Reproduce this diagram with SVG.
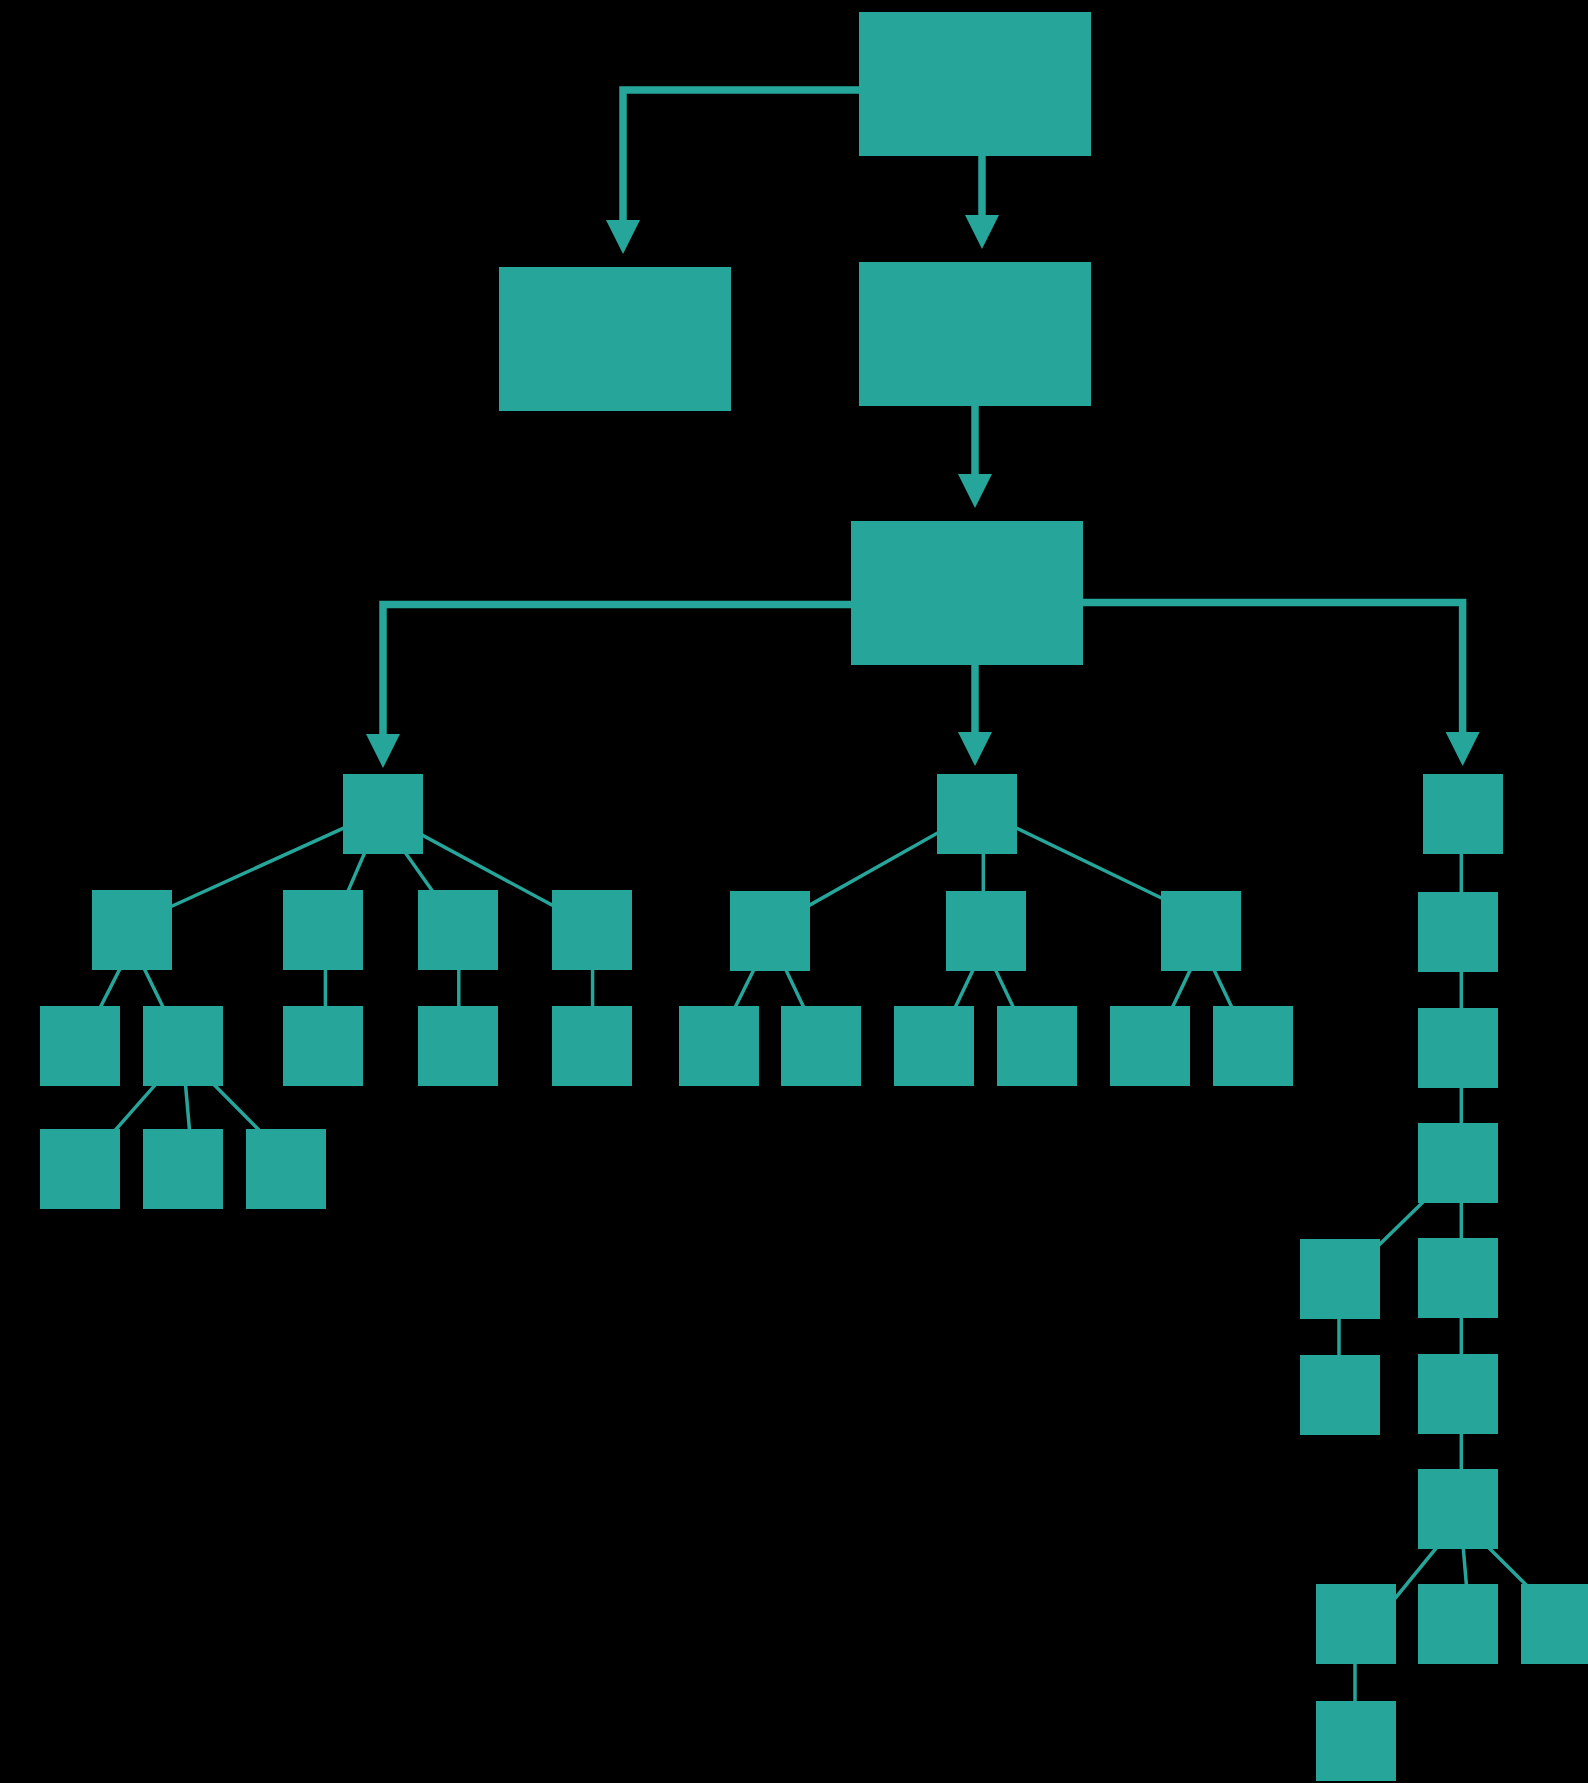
<svg xmlns="http://www.w3.org/2000/svg" width="1588" height="1783" viewBox="0 0 1588 1783">
<style>
.n{fill:#26a69a}
.thick{fill:none;stroke:#26a69a;stroke-width:7.5;stroke-linejoin:miter}
.thin{fill:none;stroke:#26a69a;stroke-width:3.5;stroke-linecap:square}
</style>
<defs>
<marker id="arr" viewBox="0 0 34 34" markerWidth="34" markerHeight="34" markerUnits="userSpaceOnUse" refX="0" refY="17" orient="auto">
<path d="M0,0 L34,17 L0,34 z" fill="#26a69a"/>
</marker>
</defs>
<rect width="1588" height="1783" fill="#000"/>
<g id="connectors">
<path class="thick" d="M859 90 H623 V220" marker-end="url(#arr)"/>
<path class="thick" d="M982 156 V215" marker-end="url(#arr)"/>
<path class="thick" d="M975 406 V474" marker-end="url(#arr)"/>
<path class="thick" d="M851 604.5 H383 V734" marker-end="url(#arr)"/>
<path class="thick" d="M975 665 V732" marker-end="url(#arr)"/>
<path class="thick" d="M1083 602.5 H1462.6 V732" marker-end="url(#arr)"/>
<line class="thin" x1="343" y1="828.3" x2="172.2" y2="906"/>
<line class="thin" x1="364.1" y1="854" x2="348.5" y2="890"/>
<line class="thin" x1="406.2" y1="854" x2="431.8" y2="890"/>
<line class="thin" x1="422.6" y1="835.3" x2="551.8" y2="905"/>
<line class="thin" x1="119.5" y1="969.7" x2="101" y2="1006"/>
<line class="thin" x1="144.8" y1="969.7" x2="162.5" y2="1006"/>
<line class="thin" x1="325.4" y1="970" x2="325.4" y2="1006"/>
<line class="thin" x1="458.8" y1="970" x2="458.8" y2="1006"/>
<line class="thin" x1="592.6" y1="970" x2="592.6" y2="1006"/>
<line class="thin" x1="154.5" y1="1085.7" x2="116.2" y2="1129"/>
<line class="thin" x1="185.6" y1="1085.7" x2="189.4" y2="1129"/>
<line class="thin" x1="215.1" y1="1085.7" x2="258" y2="1129"/>
<line class="thin" x1="937" y1="833.3" x2="809.8" y2="905"/>
<line class="thin" x1="983.3" y1="854" x2="983.3" y2="891"/>
<line class="thin" x1="1017" y1="828.3" x2="1160.9" y2="897.7"/>
<line class="thin" x1="753.4" y1="970.7" x2="735.8" y2="1006"/>
<line class="thin" x1="786.3" y1="970.7" x2="803.1" y2="1006"/>
<line class="thin" x1="972.7" y1="970.7" x2="955.9" y2="1006"/>
<line class="thin" x1="995.9" y1="970.7" x2="1012.7" y2="1006"/>
<line class="thin" x1="1189.9" y1="970.7" x2="1173.1" y2="1006"/>
<line class="thin" x1="1214.4" y1="970.7" x2="1231.2" y2="1006"/>
<line class="thin" x1="1461.3" y1="854" x2="1461.3" y2="892"/>
<line class="thin" x1="1461.3" y1="972" x2="1461.3" y2="1008"/>
<line class="thin" x1="1461.3" y1="1088" x2="1461.3" y2="1123"/>
<line class="thin" x1="1461.3" y1="1203" x2="1461.3" y2="1238"/>
<line class="thin" x1="1422.3" y1="1202.7" x2="1380" y2="1244"/>
<line class="thin" x1="1339" y1="1319" x2="1339" y2="1355"/>
<line class="thin" x1="1461.3" y1="1318" x2="1461.3" y2="1354"/>
<line class="thin" x1="1461.3" y1="1434" x2="1461.3" y2="1469"/>
<line class="thin" x1="1436" y1="1548.3" x2="1396" y2="1597.3"/>
<line class="thin" x1="1463.3" y1="1548.3" x2="1466.3" y2="1583.7"/>
<line class="thin" x1="1489.3" y1="1548.3" x2="1525" y2="1583.7"/>
<line class="thin" x1="1355" y1="1663" x2="1355" y2="1701"/>
</g>
<g id="n-top"><rect class="n" x="859" y="12" width="232" height="144"/></g>
<g id="n-side"><rect class="n" x="499" y="267" width="232" height="144"/></g>
<g id="n-mid"><rect class="n" x="859" y="262" width="232" height="144"/></g>
<g id="n-hub"><rect class="n" x="851" y="521" width="232" height="144"/></g>
<g id="n-A"><rect class="n" x="343" y="774" width="80" height="80"/></g>
<g id="n-E"><rect class="n" x="937" y="774" width="80" height="80"/></g>
<g id="n-H"><rect class="n" x="1423" y="774" width="80" height="80"/></g>
<g id="n-B1"><rect class="n" x="92" y="890" width="80" height="80"/></g>
<g id="n-B2"><rect class="n" x="283" y="890" width="80" height="80"/></g>
<g id="n-B3"><rect class="n" x="418" y="890" width="80" height="80"/></g>
<g id="n-B4"><rect class="n" x="552" y="890" width="80" height="80"/></g>
<g id="n-C1"><rect class="n" x="40" y="1006" width="80" height="80"/></g>
<g id="n-C2"><rect class="n" x="143" y="1006" width="80" height="80"/></g>
<g id="n-C3"><rect class="n" x="283" y="1006" width="80" height="80"/></g>
<g id="n-C4"><rect class="n" x="418" y="1006" width="80" height="80"/></g>
<g id="n-C5"><rect class="n" x="552" y="1006" width="80" height="80"/></g>
<g id="n-D1"><rect class="n" x="40" y="1129" width="80" height="80"/></g>
<g id="n-D2"><rect class="n" x="143" y="1129" width="80" height="80"/></g>
<g id="n-D3"><rect class="n" x="246" y="1129" width="80" height="80"/></g>
<g id="n-F1"><rect class="n" x="730" y="891" width="80" height="80"/></g>
<g id="n-F2"><rect class="n" x="946" y="891" width="80" height="80"/></g>
<g id="n-F3"><rect class="n" x="1161" y="891" width="80" height="80"/></g>
<g id="n-G1"><rect class="n" x="679" y="1006" width="80" height="80"/></g>
<g id="n-G2"><rect class="n" x="781" y="1006" width="80" height="80"/></g>
<g id="n-G3"><rect class="n" x="894" y="1006" width="80" height="80"/></g>
<g id="n-G4"><rect class="n" x="997" y="1006" width="80" height="80"/></g>
<g id="n-G5"><rect class="n" x="1110" y="1006" width="80" height="80"/></g>
<g id="n-G6"><rect class="n" x="1213" y="1006" width="80" height="80"/></g>
<g id="n-H1"><rect class="n" x="1418" y="892" width="80" height="80"/></g>
<g id="n-H2"><rect class="n" x="1418" y="1008" width="80" height="80"/></g>
<g id="n-H3"><rect class="n" x="1418" y="1123" width="80" height="80"/></g>
<g id="n-H4"><rect class="n" x="1418" y="1238" width="80" height="80"/></g>
<g id="n-L"><rect class="n" x="1300" y="1239" width="80" height="80"/></g>
<g id="n-L2"><rect class="n" x="1300" y="1355" width="80" height="80"/></g>
<g id="n-H5"><rect class="n" x="1418" y="1354" width="80" height="80"/></g>
<g id="n-H6"><rect class="n" x="1418" y="1469" width="80" height="80"/></g>
<g id="n-I1"><rect class="n" x="1316" y="1584" width="80" height="80"/></g>
<g id="n-I2"><rect class="n" x="1418" y="1584" width="80" height="80"/></g>
<g id="n-I3"><rect class="n" x="1521" y="1584" width="80" height="80"/></g>
<g id="n-J"><rect class="n" x="1316" y="1701" width="80" height="80"/></g>
</svg>
